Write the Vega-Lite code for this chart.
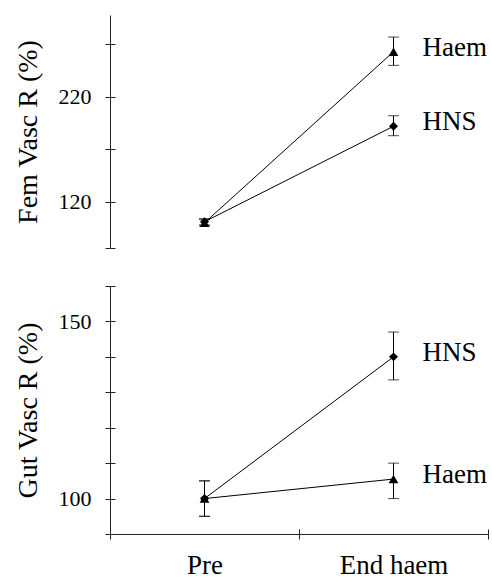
{
  "$schema": "https://vega.github.io/schema/vega-lite/v6.json",
  "padding": {"left": 14, "top": 15, "right": 4, "bottom": 0},
  "spacing": 38,
  "bounds": "flush",
  "config": {
    "font": "Liberation Serif",
    "view": {"stroke": null},
    "axis": {
      "grid": false,
      "domainColor": "#222",
      "tickColor": "#222",
      "labelColor": "black",
      "titleColor": "black",
      "titleFontWeight": "normal",
      "titleFont": "Liberation Serif",
      "labelFont": "Liberation Serif",
      "labelOverlap": false
    }
  },
  "datasets": {
    "fem": [
      {"time": "Pre", "group": "Haem", "value": 100, "lo": 97, "hi": 103},
      {"time": "Pre", "group": "HNS", "value": 101, "lo": 98, "hi": 104},
      {"time": "End haem", "group": "Haem", "value": 263, "lo": 250, "hi": 277},
      {"time": "End haem", "group": "HNS", "value": 192, "lo": 183, "hi": 202}
    ],
    "gut": [
      {"time": "Pre", "group": "Haem", "value": 100, "lo": 95, "hi": 105},
      {"time": "Pre", "group": "HNS", "value": 100, "lo": 95, "hi": 105},
      {"time": "End haem", "group": "HNS", "value": 140, "lo": 133.5, "hi": 147},
      {"time": "End haem", "group": "Haem", "value": 105.5, "lo": 100, "hi": 110}
    ]
  },
  "vconcat": [
    {
      "width": 378,
      "height": 233,
      "data": {"name": "fem"},
      "resolve": {"axis": {"y": "independent"}},
      "encoding": {
        "x": {"field": "time", "type": "nominal", "sort": ["Pre", "End haem"], "scale": {"paddingInner": 0, "paddingOuter": 0}, "axis": null}
      },
      "layer": [
        {
          "mark": {"type": "line", "color": "black", "strokeWidth": 1},
          "encoding": {
            "y": {"field": "value", "type": "quantitative", "scale": {"domain": [76, 298], "nice": false, "zero": false},
              "axis": {"orient": "left", "title": "Fem Vasc R (%)", "titleFontSize": 28, "titlePadding": 16, "values": [76, 120, 170, 220, 270],
                "labelExpr": "datum.value==120||datum.value==220?datum.label:''", "labelFontSize": 22, "tickSize": 5, "labelPadding": 14}},
            "detail": {"field": "group"}
          }
        },
        {
          "mark": {"type": "rule", "color": "black", "strokeWidth": 1},
          "encoding": {"y": {"field": "lo", "type": "quantitative",
              "axis": {"orient": "left", "title": null, "labels": false, "domain": false, "values": [76, 120, 170, 220, 270], "tickSize": -5}},
            "y2": {"field": "hi"}}
        },
        {
          "mark": {"type": "tick", "color": "black", "thickness": 1, "size": 11},
          "encoding": {"y": {"field": "lo", "type": "quantitative", "axis": null}}
        },
        {
          "mark": {"type": "tick", "color": "black", "thickness": 1, "size": 11},
          "encoding": {"y": {"field": "hi", "type": "quantitative", "axis": null}}
        },
        {
          "mark": {"type": "point", "filled": true, "color": "black", "opacity": 1},
          "encoding": {
            "y": {"field": "value", "type": "quantitative", "axis": null},
            "shape": {"field": "group", "type": "nominal", "scale": {"domain": ["Haem", "HNS"], "range": ["triangle-up", "diamond"]}, "legend": null},
            "size": {"field": "group", "type": "nominal", "scale": {"domain": ["Haem", "HNS"], "range": [95, 80]}, "legend": null}
          }
        },
        {
          "transform": [{"filter": "datum.time == 'End haem'"}],
          "mark": {"type": "text", "align": "left", "baseline": "middle", "dx": 29, "dy": -4, "fontSize": 27, "font": "Liberation Serif", "color": "black"},
          "encoding": {"y": {"field": "value", "type": "quantitative", "axis": null},
            "text": {"field": "group"}}
        }
      ]
    },
    {
      "width": 378,
      "height": 248,
      "data": {"name": "gut"},
      "resolve": {"axis": {"y": "independent", "x": "independent"}},
      "layer": [
        {
          "mark": {"type": "line", "color": "black", "strokeWidth": 1},
          "encoding": {
            "x": {"field": "time", "type": "nominal", "sort": ["Pre", "End haem"], "scale": {"paddingInner": 0, "paddingOuter": 0},
              "axis": {"orient": "bottom", "title": null, "tickBand": "extent", "labelAngle": 0, "labelFontSize": 27, "labelPadding": 13, "tickSize": 5}},
            "y": {"field": "value", "type": "quantitative", "scale": {"domain": [90, 160], "nice": false, "zero": false},
              "axis": {"orient": "left", "title": "Gut Vasc R (%)", "titleFontSize": 28, "titlePadding": 16, "values": [90, 100, 110, 120, 130, 140, 150, 160],
                "labelExpr": "datum.value==100||datum.value==150?datum.label:''", "labelFontSize": 22, "tickSize": 5, "labelPadding": 14}},
            "detail": {"field": "group"}
          }
        },
        {
          "mark": {"type": "rule", "color": "black", "strokeWidth": 1},
          "encoding": {
            "x": {"field": "time", "type": "nominal", "sort": ["Pre", "End haem"],
              "axis": {"orient": "bottom", "title": null, "labels": false, "domain": false, "tickBand": "extent", "tickSize": -5}},
            "y": {"field": "lo", "type": "quantitative",
              "axis": {"orient": "left", "title": null, "labels": false, "domain": false, "values": [90, 100, 110, 120, 130, 140, 150, 160], "tickSize": -5}},
            "y2": {"field": "hi"}}
        },
        {
          "mark": {"type": "tick", "color": "black", "thickness": 1, "size": 11},
          "encoding": {
            "x": {"field": "time", "type": "nominal", "sort": ["Pre", "End haem"], "axis": null},
            "y": {"field": "lo", "type": "quantitative", "axis": null}}
        },
        {
          "mark": {"type": "tick", "color": "black", "thickness": 1, "size": 11},
          "encoding": {
            "x": {"field": "time", "type": "nominal", "sort": ["Pre", "End haem"], "axis": null},
            "y": {"field": "hi", "type": "quantitative", "axis": null}}
        },
        {
          "mark": {"type": "point", "filled": true, "color": "black", "opacity": 1},
          "encoding": {
            "x": {"field": "time", "type": "nominal", "sort": ["Pre", "End haem"], "axis": null},
            "y": {"field": "value", "type": "quantitative", "axis": null},
            "shape": {"field": "group", "type": "nominal", "scale": {"domain": ["Haem", "HNS"], "range": ["triangle-up", "diamond"]}, "legend": null},
            "size": {"field": "group", "type": "nominal", "scale": {"domain": ["Haem", "HNS"], "range": [95, 80]}, "legend": null}
          }
        },
        {
          "transform": [{"filter": "datum.time == 'End haem'"}],
          "mark": {"type": "text", "align": "left", "baseline": "middle", "dx": 29, "dy": -4, "fontSize": 27, "font": "Liberation Serif", "color": "black"},
          "encoding": {
            "x": {"field": "time", "type": "nominal", "sort": ["Pre", "End haem"], "axis": null},
            "y": {"field": "value", "type": "quantitative", "axis": null},
            "text": {"field": "group"}}
        }
      ]
    }
  ]
}
